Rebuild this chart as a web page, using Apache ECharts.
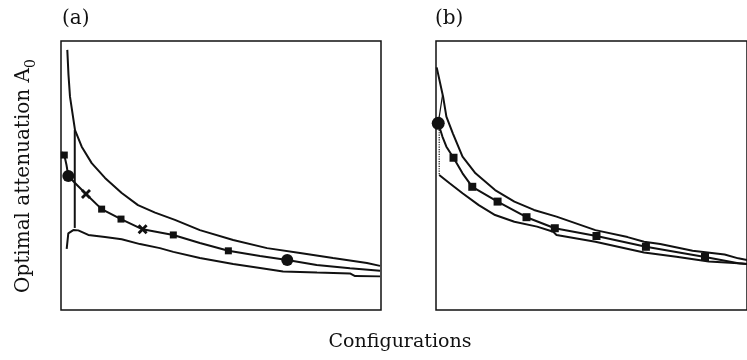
<!DOCTYPE html>
<html>
<head>
<meta charset="utf-8">
<script src="https://cdn.jsdelivr.net/npm/echarts@6/dist/echarts.min.js"></script>
<style>
  html, body { margin: 0; padding: 0; background: #fff; }
  #chart { width: 747px; height: 360px; }
</style>
</head>
<body>
<div id="chart"></div>
<script>
// panel (a): configuration index (0-100) vs attenuation (arbitrary units 0-100)
var upperA = [[1.97, 96.7], [2.34, 87.4], [2.81, 79.3], [4.38, 66.9], [6.47, 60.7], [9.59, 54.6], [13.75, 49.1], [18.97, 43.5], [24.06, 39.0], [29.4, 36.2], [35.6, 33.5], [43.4, 29.7], [53.8, 26.0], [64.4, 23.0], [74.7, 21.2], [85.0, 19.3], [95.6, 17.5], [99.7, 16.4]];
var middleA = [[0.22, 58.7], [1.03, 57.6], [1.72, 53.9], [2.28, 49.8], [4.38, 47.2], [7.81, 43.1], [12.7, 37.5], [18.75, 33.8], [25.5, 30.0], [35.1, 27.9], [43.4, 24.9], [52.3, 22.0], [62.2, 20.1], [70.7, 18.6], [79.9, 16.7], [90.3, 15.5], [99.7, 14.6]];
var lowerA = [[1.78, 22.7], [2.28, 28.5], [3.84, 29.7], [5.4, 29.6], [8.53, 27.9], [13.75, 27.1], [18.97, 26.3], [24.7, 24.5], [30.9, 23.0], [35.1, 21.6], [43.4, 19.3], [53.8, 17.1], [62.2, 15.6], [69.4, 14.3], [80.0, 13.9], [90.3, 13.6], [91.9, 12.6], [99.7, 12.5]];
var linkA = [[4.3, 66.9], [4.3, 30.5]];
var squaresA = [[1.03, 57.6], [12.7, 37.5], [18.75, 33.8], [35.1, 27.9], [52.3, 22.0]];
var crossesA = [[7.81, 43.1], [25.5, 30.0]];
var circlesA = [[2.28, 49.8], [70.7, 18.6]];

// panel (b)
var upperB = [[0.22, 90.2], [2.28, 79.3], [3.34, 71.9], [5.41, 65.7], [8.53, 57.0], [12.7, 50.8], [19.0, 44.6], [25.2, 40.3], [31.5, 37.2], [38.75, 34.7], [51.25, 29.7], [61.6, 27.1], [66.9, 25.4], [72.1, 24.5], [82.5, 22.0], [92.8, 20.6], [97.2, 19.2], [100, 18.6]];
var middleB = [[0.72, 69.4], [2.09, 64.4], [3.34, 60.7], [5.63, 56.6], [8.53, 50.8], [11.66, 45.8], [19.8, 40.3], [29.1, 34.5], [38.2, 30.4], [51.6, 27.5], [67.5, 23.5], [86.5, 19.7], [97.2, 17.4], [100, 17.1]];
var lowerB = [[1.03, 50.2], [4.38, 47.1], [8.53, 43.4], [13.75, 39.0], [19.0, 35.3], [25.2, 32.8], [32.5, 31.0], [37.7, 29.1], [38.75, 27.9], [51.25, 25.4], [66.9, 21.4], [77.3, 19.8], [87.7, 18.0], [97.2, 17.4], [100, 17.1]];
var spikeB = [[2.1, 79.9], [0.72, 69.4]];
var linkB = [[1.03, 68.8], [1.03, 50.2]];
var squaresB = [[5.63, 56.6], [11.66, 45.8], [19.8, 40.3], [29.1, 34.5], [38.2, 30.4], [51.6, 27.5], [67.5, 23.5], [86.5, 19.7]];
var circlesB = [[0.72, 69.4]];

var panelLabels = ["(a)", "(b)"];
var xTitle = "Configurations";
var yTitle = "Optimal attenuation A";
var ySub = "0";

(function () {
  var ink = "#111111";
  var serif = "DejaVu Serif";
  // chunky x mark, drawn like the blotted crosses of the scan
  var crossPath = "path://M0,2 L2,0 L5,3 L8,0 L10,2 L7,5 L10,8 L8,10 L5,7 L2,10 L0,8 L3,5 Z";

  function curve(data, idx, width, type) {
    return {
      type: "line",
      xAxisIndex: idx,
      yAxisIndex: idx,
      data: data,
      showSymbol: false,
      silent: true,
      animation: false,
      lineStyle: { color: ink, width: width || 2, type: type || "solid", opacity: 1 }
    };
  }

  function marks(data, idx, symbol, size) {
    return {
      type: "scatter",
      xAxisIndex: idx,
      yAxisIndex: idx,
      data: data,
      symbol: symbol,
      symbolSize: size,
      silent: true,
      animation: false,
      z: 3,
      itemStyle: { color: ink, opacity: 1 }
    };
  }

  function hiddenAxis(idx) {
    return {
      type: "value",
      gridIndex: idx,
      min: 0,
      max: 100,
      axisLine: { show: false },
      axisTick: { show: false },
      axisLabel: { show: false },
      splitLine: { show: false }
    };
  }

  var chart = echarts.init(document.getElementById("chart"), null, { renderer: "canvas" });

  chart.setOption({
    backgroundColor: "#ffffff",
    animation: false,
    grid: [
      { left: 61, top: 41, width: 320, height: 269, show: true, borderColor: ink, borderWidth: 1.5 },
      { left: 436, top: 41, width: 320, height: 269, show: true, borderColor: ink, borderWidth: 1.5 }
    ],
    xAxis: [hiddenAxis(0), hiddenAxis(1)],
    yAxis: [hiddenAxis(0), hiddenAxis(1)],
    graphic: [
      { type: "text", left: 62, top: 9, style: { text: panelLabels[0], font: "20px " + serif, fill: ink } },
      { type: "text", left: 435, top: 9, style: { text: panelLabels[1], font: "20px " + serif, fill: ink } },
      {
        type: "text", x: 400, y: 342,
        style: { text: xTitle, font: "19px " + serif, fill: ink, align: "center", verticalAlign: "middle" }
      },
      {
        type: "text", x: 24, y: 176, rotation: Math.PI / 2,
        style: {
          text: "{a|" + yTitle + "}{s|" + ySub + "}",
          align: "center",
          verticalAlign: "middle",
          rich: {
            a: { fontFamily: serif, fontSize: 20, lineHeight: 28, fill: ink, color: ink },
            s: { fontFamily: serif, fontSize: 14, lineHeight: 12, verticalAlign: "bottom", fill: ink, color: ink }
          }
        }
      }
    ],
    series: [
      curve(upperA, 0),
      curve(middleA, 0),
      curve(lowerA, 0),
      curve(linkA, 0, 2),
      marks(squaresA, 0, "rect", 7),
      marks(crossesA, 0, crossPath, 10),
      marks(circlesA, 0, "circle", 12),
      curve(upperB, 1),
      curve(middleB, 1),
      curve(lowerB, 1),
      curve(spikeB, 1, 1.2),
      curve(linkB, 1, 1.2, "dotted"),
      marks(squaresB, 1, "rect", 8),
      marks(circlesB, 1, "circle", 13)
    ]
  });
})();
</script>
</body>
</html>
